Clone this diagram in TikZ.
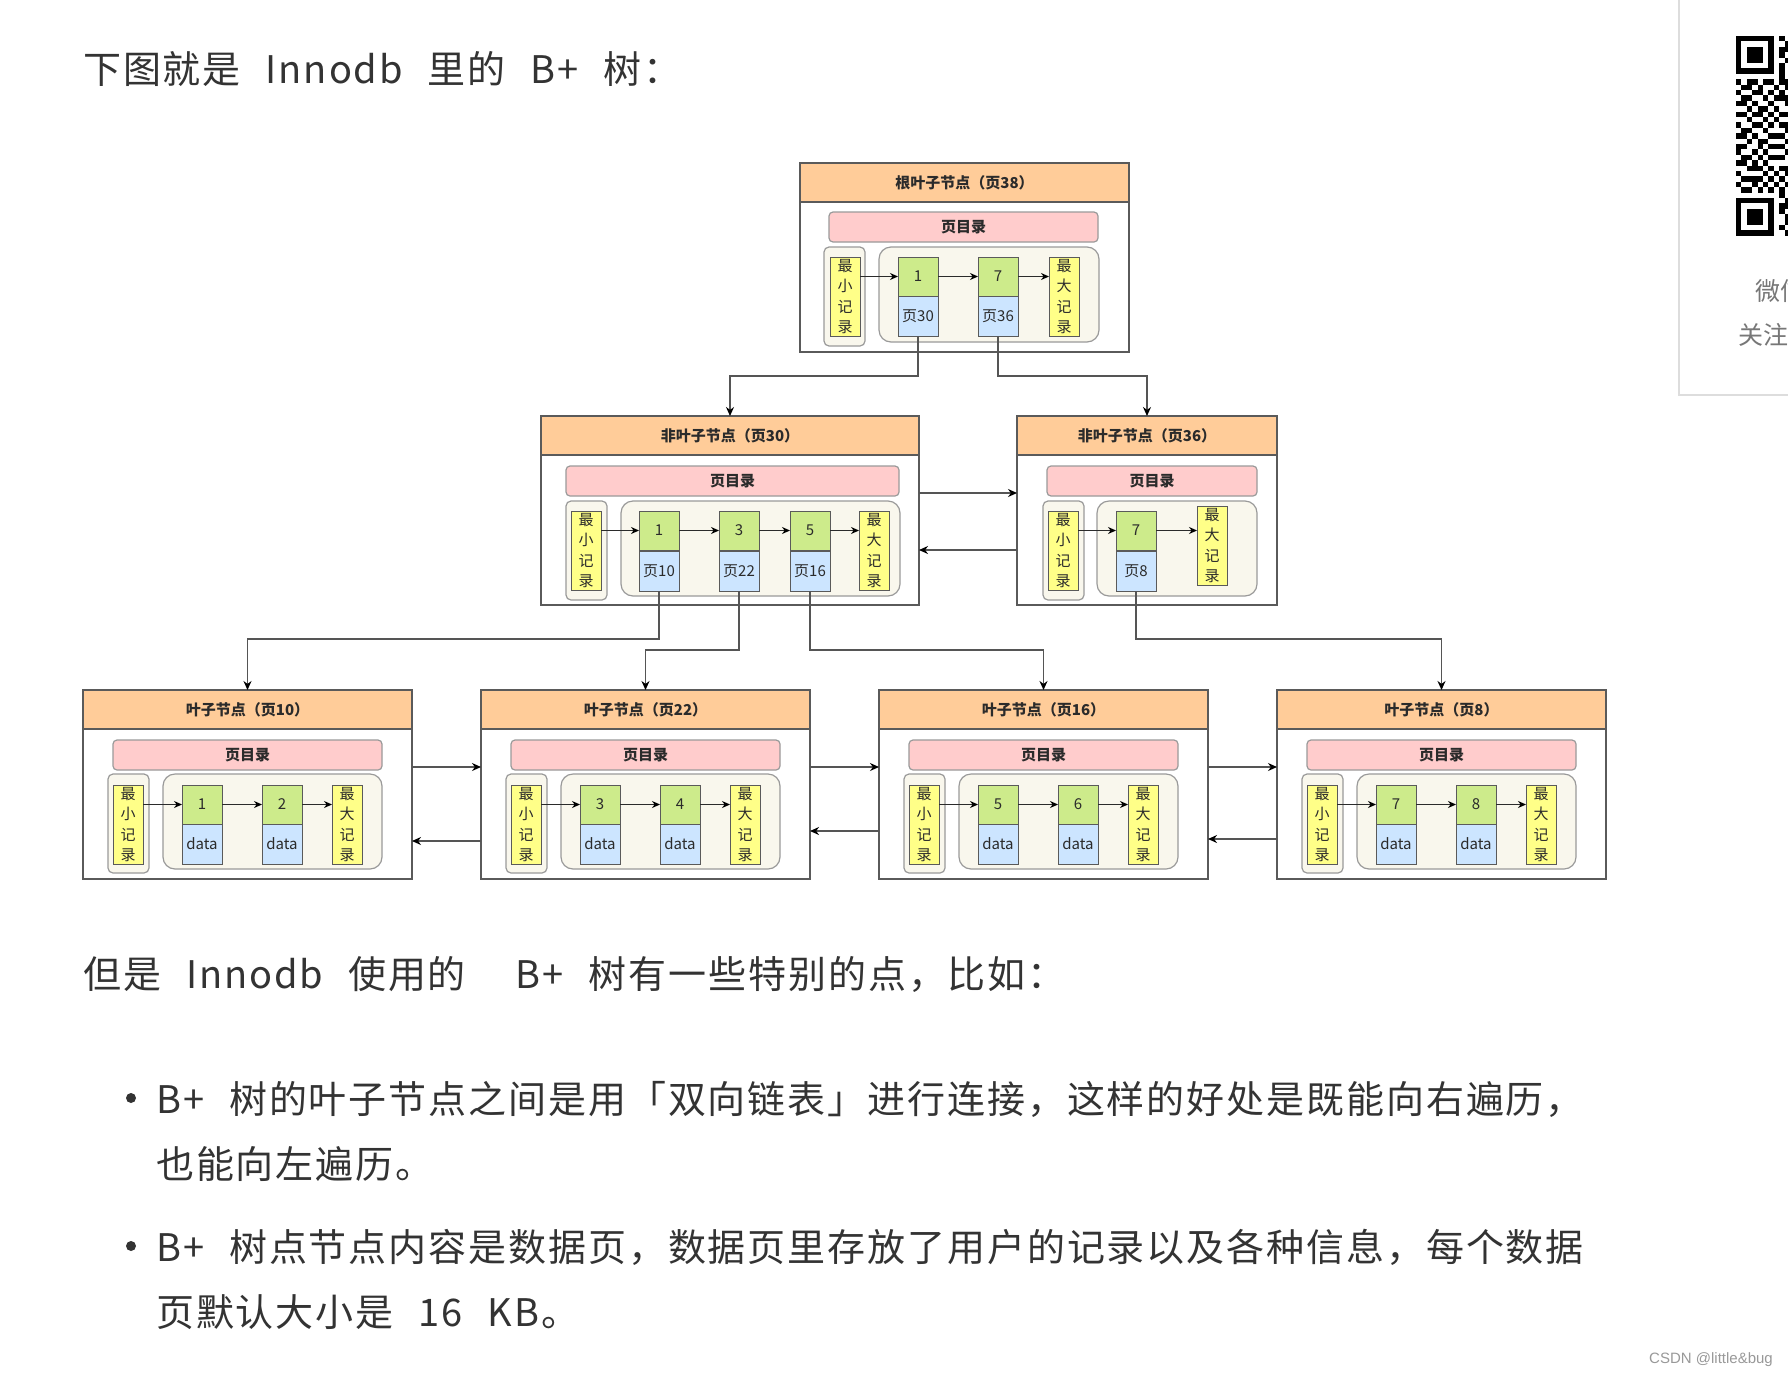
\documentclass[tikz,border=0pt]{standalone}
\usepackage{fontspec}
\setmainfont{Noto Sans CJK SC}
\newfontfamily\bodyfont[LetterSpace=5,WordSpace=2.4]{Noto Sans CJK SC}
\newfontfamily\wmfont{Liberation Sans}
\usetikzlibrary{arrows.meta}
\definecolor{hdr}{HTML}{FFCC99}
\definecolor{pdirc}{HTML}{FFCCCC}
\definecolor{cream}{HTML}{F9F7ED}
\definecolor{ylw}{HTML}{FFFF88}
\definecolor{grn}{HTML}{CDEB8B}
\definecolor{blu}{HTML}{CCE5FF}
\definecolor{edge}{HTML}{5A5A5A}
\definecolor{soft}{HTML}{9A9A9A}
\definecolor{dark}{HTML}{5A5A5A}
\definecolor{ink}{HTML}{2B2B2B}
\definecolor{bodyc}{HTML}{333333}
\definecolor{cline}{HTML}{555555}
\definecolor{panelc}{HTML}{DDDDDD}
\definecolor{sidec}{HTML}{777777}
\definecolor{wmc}{HTML}{999999}
\newcommand\hdrfont{\fontsize{15}{18}\selectfont\bfseries}
\newcommand\lblfont{\fontsize{15}{18}\selectfont}
\newcommand\vfont{\fontsize{15}{20.6}\selectfont}
\newcommand\txtfont{\bodyfont\fontsize{38}{46}\selectfont}
\newcommand\qm[2]{\fill (1736+#1*5.4,36+#2*5.4) rectangle ++(5.4,5.4);}
\newcommand\finder[2]{%
  \fill (1736+#1*5.4,36+#2*5.4) rectangle ++(37.8,37.8);
  \fill[white] (1736+#1*5.4+5.4,36+#2*5.4+5.4) rectangle ++(27,27);
  \fill (1736+#1*5.4+10.8,36+#2*5.4+10.8) rectangle ++(16.2,16.2);}
\tikzset{
  bx/.style={anchor=north west, inner sep=0pt, outer sep=0pt, text=ink},
  outerbox/.style={bx, draw=edge, line width=1.5pt, fill=white, minimum height=189pt},
  headbox/.style={bx, draw=edge, line width=1.5pt, fill=hdr, minimum height=39pt, font=\hdrfont},
  pdir/.style={bx, draw=soft, line width=1.2pt, fill=pdirc, rounded corners=4pt, minimum height=30pt, font=\hdrfont},
  minouter/.style={bx, draw=soft, line width=1.2pt, fill=cream, rounded corners=5pt, minimum width=41pt, minimum height=99pt},
  cont/.style={bx, draw=soft, line width=1.2pt, fill=cream, rounded corners=12pt, minimum height=95pt},
  yrec/.style={bx, draw=dark, line width=1pt, fill=ylw, minimum width=30pt, minimum height=79pt, align=center, font=\vfont},
  keyrec/.style={bx, draw=dark, line width=1pt, fill=grn, minimum width=40pt, minimum height=39pt, font=\lblfont},
  valrec/.style={bx, draw=dark, line width=1pt, fill=blu, minimum width=40pt, minimum height=40pt, font=\lblfont},
  link/.style={draw=ink, line width=1.2pt, -{Stealth[length=8pt,width=7pt,color=black]}},
  conn/.style={draw=cline, line width=1.5pt, -{Stealth[length=9pt,width=8pt,color=black]}},
  txt/.style={anchor=base west, inner sep=0pt, font=\txtfont, text=bodyc},
  dot/.style={circle, fill=bodyc, inner sep=0pt, minimum size=10pt}
}
\begin{document}
\begin{tikzpicture}[x=1pt,y=-1pt]
\useasboundingbox[fill=white] (0,0) rectangle (1788,1379);

% ---------- text ----------
\node[txt] (t1) at (83,83) {下图就是 Innodb 里的 B+ 树：};
\node[txt] (t2) at (83,988) {但是 Innodb 使用的 \ B+ 树有一些特别的点，比如：};
\node[dot] (b1) at (131,1098) {};
\node[txt] (t3) at (156,1113) {B+ 树的叶子节点之间是用「双向链表」进行连接，这样的好处是既能向右遍历，};
\node[txt] (t4) at (156,1178) {也能向左遍历。};
\node[dot] (b2) at (131,1246) {};
\node[txt] (t5) at (156,1261) {B+ 树点节点内容是数据页，数据页里存放了用户的记录以及各种信息，每个数据};
\node[txt] (t6) at (156,1326) {页默认大小是 16 KB。};
\node[anchor=east, inner sep=0pt, font=\wmfont\fontsize{15}{18}\selectfont, text=wmc] (wm) at (1773,1360) {CSDN @little\&bug};

% ---------- side panel ----------
\begin{scope}
\clip (0,0) rectangle (1788,1379);
\draw[panelc, line width=2pt] (1679,0) -- (1679,395) -- (1790,395);
\finder{0}{0}
\finder{0}{30}
\foreach \r in {8,10,...,28} {\qm{6}{\r}}
\foreach \c/\r in {8/0,8/2,8/3,8/5,8/6,8/7,9/1,9/2,9/4,9/8,8/8,
  0/8,2/8,3/8,5/8,1/9,2/9,4/9,7/9,9/9,0/10,3/10,4/10,8/10,1/11,2/11,5/11,7/11,8/11,9/11,
  0/12,1/12,3/12,9/12,2/13,4/13,5/13,7/13,0/14,1/14,3/14,4/14,8/14,9/14,2/15,5/15,7/15,
  0/16,3/16,4/16,8/16,9/16,1/17,2/17,5/17,9/17,0/18,1/18,3/18,7/18,8/18,2/19,4/19,5/19,9/19,
  0/20,1/20,4/20,7/20,8/20,0/21,3/21,5/21,9/21,1/22,2/22,4/22,7/22,8/22,0/23,1/23,3/23,5/23,
  2/24,3/24,4/24,8/24,9/24,0/25,5/25,7/25,9/25,1/26,2/26,3/26,4/26,8/26,0/27,3/27,5/27,7/27,9/27,
  1/28,2/28,4/28,8/28,8/29,8/31,8/32,8/35,9/30,9/31,9/33,9/34,9/36} {\qm{\c}{\r}}
\node[anchor=base west, inner sep=0pt, font=\fontsize{25}{28}\selectfont, text=sidec] (s1) at (1755,300) {微信};
\node[anchor=base west, inner sep=0pt, font=\fontsize{25}{28}\selectfont, text=sidec] (s2) at (1738,344) {关注};
\end{scope}

% ---------- root page ----------
\node[outerbox, minimum width=329pt] (root) at (800,163) {};
\node[headbox, minimum width=329pt] (rootH) at (800,163) {根叶子节点（页38）};
\node[pdir, minimum width=269pt] (rootD) at (829,212) {页目录};
\node[minouter] (rootMinO) at (824,247) {};
\node[yrec] (rootMin) at (830,257) {最\\小\\记\\录};
\node[cont, minimum width=220pt] (rootC) at (879,247) {};
\node[keyrec] (rootK1) at (898,257) {1};
\node[valrec] (rootV1) at (898,296) {页30};
\node[keyrec] (rootK2) at (978,257) {7};
\node[valrec] (rootV2) at (978,296) {页36};
\node[yrec] (rootMax) at (1049,257) {最\\大\\记\\录};
\draw[link] (rootMin.east |- rootK1.west) -- (rootK1.west);
\draw[link] (rootK1.east) -- (rootK2.west);
\draw[link] (rootK2.east) -- (rootMax.west |- rootK2.east);

% ---------- middle left ----------
\node[outerbox, minimum width=378pt] (midL) at (541,416) {};
\node[headbox, minimum width=378pt] (midLH) at (541,416) {非叶子节点（页30）};
\node[pdir, minimum width=333pt] (midLD) at (566,466) {页目录};
\node[minouter] (midLMinO) at (566,501) {};
\node[yrec] (midLMin) at (571,511) {最\\小\\记\\录};
\node[cont, minimum width=279pt] (midLC) at (621,501) {};
\node[keyrec] (midLK1) at (639,511) {1};
\node[valrec] (midLV1) at (639,551) {页10};
\node[keyrec] (midLK2) at (719,511) {3};
\node[valrec] (midLV2) at (719,551) {页22};
\node[keyrec] (midLK3) at (790,511) {5};
\node[valrec] (midLV3) at (790,551) {页16};
\node[yrec] (midLMax) at (859,511) {最\\大\\记\\录};
\draw[link] (midLMin.east |- midLK1.west) -- (midLK1.west);
\draw[link] (midLK1.east) -- (midLK2.west);
\draw[link] (midLK2.east) -- (midLK3.west);
\draw[link] (midLK3.east) -- (midLMax.west |- midLK3.east);

% ---------- middle right ----------
\node[outerbox, minimum width=260pt] (midR) at (1017,416) {};
\node[headbox, minimum width=260pt] (midRH) at (1017,416) {非叶子节点（页36）};
\node[pdir, minimum width=210pt] (midRD) at (1047,466) {页目录};
\node[minouter] (midRMinO) at (1043,501) {};
\node[yrec] (midRMin) at (1048,511) {最\\小\\记\\录};
\node[cont, minimum width=160pt] (midRC) at (1097,501) {};
\node[keyrec] (midRK1) at (1116,511) {7};
\node[valrec] (midRV1) at (1116,551) {页8};
\node[yrec] (midRMax) at (1197,506) {最\\大\\记\\录};
\draw[link] (midRMin.east |- midRK1.west) -- (midRK1.west);
\draw[link] (midRK1.east) -- (midRMax.west |- midRK1.east);

% ---------- leaves ----------
\foreach \L/\nm/\ka/\kb in {83/10/1/2, 481/22/3/4, 879/16/5/6, 1277/8/7/8} {
  \node[outerbox, minimum width=329pt] (leaf\nm) at (\L,690) {};
  \node[headbox, minimum width=329pt] (leafH\nm) at (\L,690) {叶子节点（页\nm）};
  \node[pdir, minimum width=269pt] (leafD\nm) at (\L+30,740) {页目录};
  \node[minouter] (leafMinO\nm) at (\L+25,774) {};
  \node[yrec] (leafMin\nm) at (\L+30,785) {最\\小\\记\\录};
  \node[cont, minimum width=219pt] (leafC\nm) at (\L+80,774) {};
  \node[keyrec] (leafKa\nm) at (\L+99,785) {\ka};
  \node[valrec] (leafVa\nm) at (\L+99,824) {data};
  \node[keyrec] (leafKb\nm) at (\L+179,785) {\kb};
  \node[valrec] (leafVb\nm) at (\L+179,824) {data};
  \node[yrec] (leafMax\nm) at (\L+249,785) {最\\大\\记\\录};
  \draw[link] (leafMin\nm.east |- leafKa\nm.west) -- (leafKa\nm.west);
  \draw[link] (leafKa\nm.east) -- (leafKb\nm.west);
  \draw[link] (leafKb\nm.east) -- (leafMax\nm.west |- leafKb\nm.east);
}

% ---------- tree connectors ----------
\draw[conn] (rootV1.south) -- ++(0,40) -| (midL.north);
\draw[conn] (rootV2.south) -- ++(0,40) -| (midR.north);
\draw[conn] (midLV1.south) -- ++(0,48) -| (leaf10.north);
\draw[conn] (midLV2.south) -- ++(0,59) -| (leaf22.north);
\draw[conn] (midLV3.south) -- ++(0,59) -| (leaf16.north);
\draw[conn] (midRV1.south) -- ++(0,48) -| (leaf8.north);

% ---------- sibling links ----------
\draw[conn] ([yshift=17.5pt]midL.east) -- ([yshift=17.5pt]midR.west);
\draw[conn] ([yshift=-39.5pt]midR.west) -- ([yshift=-39.5pt]midL.east);
\draw[conn] ([yshift=17.5pt]leaf10.east) -- ([yshift=17.5pt]leaf22.west);
\draw[conn] ([yshift=-56.5pt]leaf22.west) -- ([yshift=-56.5pt]leaf10.east);
\draw[conn] ([yshift=17.5pt]leaf22.east) -- ([yshift=17.5pt]leaf16.west);
\draw[conn] ([yshift=-46.5pt]leaf16.west) -- ([yshift=-46.5pt]leaf22.east);
\draw[conn] ([yshift=17.5pt]leaf16.east) -- ([yshift=17.5pt]leaf8.west);
\draw[conn] ([yshift=-54.5pt]leaf8.west) -- ([yshift=-54.5pt]leaf16.east);
\end{tikzpicture}
\end{document}
